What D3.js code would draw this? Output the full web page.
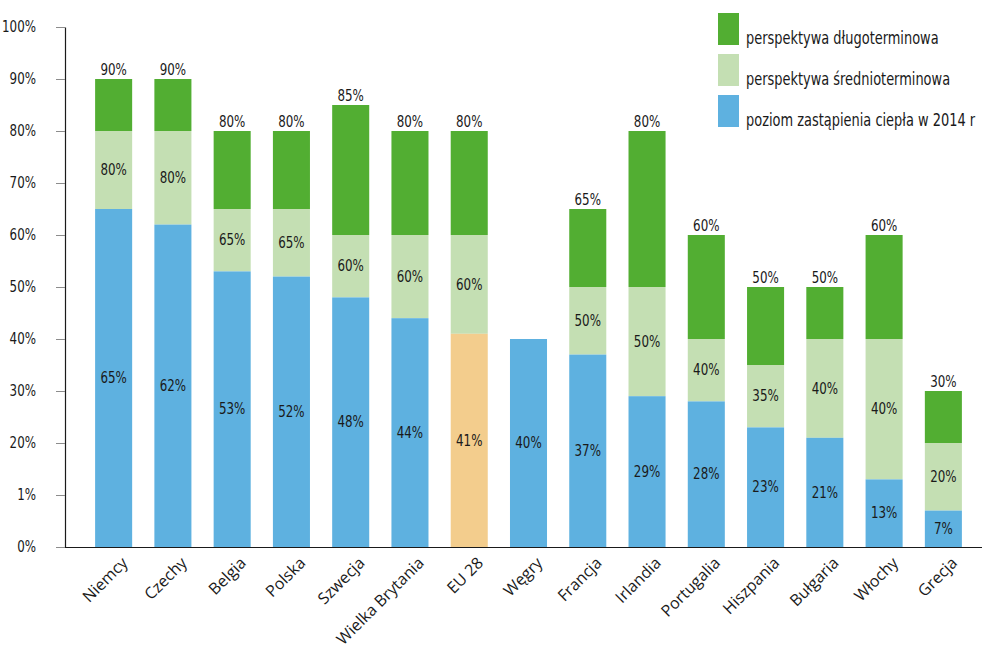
<!DOCTYPE html>
<html>
<head>
<meta charset="utf-8">
<style>
  body { margin: 0; background: #fff; }
  svg { display: block; }
  .cond { font-family: "DejaVu Sans Condensed", "Liberation Sans Narrow", "Open Sans", sans-serif; }
  .xlab { font-family: "Open Sans", "Noto Sans", sans-serif; font-size: 16px; fill: #1a1a1a; }
  .val { font-size: 15px; fill: #1a1a1a; text-anchor: middle; }
  .yaxis text { font-size: 15px; fill: #1a1a1a; }
  .yaxis line { stroke: #8c8c8c; }
  .yaxis path { stroke: #1a1a1a; stroke-width: 1.2px; }
</style>
</head>
<body>
<div id="chart"></div>
<script src="https://cdn.jsdelivr.net/npm/d3@7"></script>
<script>
// countries, left to right
var countries = ["Niemcy", "Czechy", "Belgia", "Polska", "Szwecja", "Wielka Brytania", "EU 28",
                 "Węgry", "Francja", "Irlandia", "Portugalia", "Hiszpania", "Bułgaria", "Włochy", "Grecja"];
// poziom zastąpienia ciepła w 2014 r (%)
var current   = [65, 62, 53, 52, 48, 44, 41, 40, 37, 29, 28, 23, 21, 13, 7];
// perspektywa średnioterminowa (cumulative %)
var midTerm   = [80, 80, 65, 65, 60, 60, 60, null, 50, 50, 40, 35, 40, 40, 20];
// perspektywa długoterminowa (cumulative %)
var longTerm  = [90, 90, 80, 80, 85, 80, 80, null, 65, 80, 60, 50, 50, 60, 30];

var yTicks      = [0, 10, 20, 30, 40, 50, 60, 70, 80, 90, 100];
var yTickLabels = ["0%", "1%", "20%", "30%", "40%", "50%", "60%", "70%", "80%", "90%", "100%"];

var legendLabels = ["perspektywa długoterminowa", "perspektywa średnioterminowa", "poziom zastąpienia ciepła w 2014 r"];

var colLong = "#52ae32", colMid = "#c4dfb3", colCur = "#5eb1e0", colEU = "#f3cd8d";

var width = 982, height = 646;
var svg = d3.select("#chart").append("svg")
    .attr("width", width)
    .attr("height", height);

var x = d3.scaleBand()
    .domain(countries)
    .range([84, 973])
    .paddingInner(0.375)
    .paddingOuter(0.1875);

var y = d3.scaleLinear()
    .domain([0, 100])
    .range([547, 27]);

var rows = countries.map(function(c, i) {
  return { name: c, cur: current[i], mid: midTerm[i], lng: longTerm[i] };
});

// squeeze a text horizontally, the original uses a condensed face
function squeeze(sel, k) {
  sel.each(function() {
    var w = this.getComputedTextLength();
    d3.select(this).attr("textLength", w * k).attr("lengthAdjust", "spacingAndGlyphs");
  });
}

// bars
var g = svg.append("g");
var bar = g.selectAll("g.bar")
    .data(rows)
  .enter().append("g")
    .attr("class", "bar");

bar.filter(function(d) { return d.lng != null; })
  .append("rect")
    .attr("x", function(d) { return x(d.name); })
    .attr("width", x.bandwidth())
    .attr("y", function(d) { return y(d.lng); })
    .attr("height", function(d) { return y(d.mid) - y(d.lng); })
    .attr("fill", colLong);

bar.filter(function(d) { return d.mid != null; })
  .append("rect")
    .attr("x", function(d) { return x(d.name); })
    .attr("width", x.bandwidth())
    .attr("y", function(d) { return y(d.mid); })
    .attr("height", function(d) { return y(d.cur) - y(d.mid); })
    .attr("fill", colMid);

bar.append("rect")
    .attr("x", function(d) { return x(d.name); })
    .attr("width", x.bandwidth())
    .attr("y", function(d) { return y(d.cur); })
    .attr("height", function(d) { return y(0) - y(d.cur); })
    .attr("fill", function(d) { return d.name === "EU 28" ? colEU : colCur; });

// value labels
var cx = function(d) { return x(d.name) + x.bandwidth() / 2; };

bar.filter(function(d) { return d.lng != null; })
  .append("text")
    .attr("class", "val cond")
    .attr("x", cx)
    .attr("y", function(d) { return y(d.lng) - 4; })
    .text(function(d) { return d.lng + "%"; });

bar.filter(function(d) { return d.mid != null; })
  .append("text")
    .attr("class", "val cond")
    .attr("x", cx)
    .attr("y", function(d) { return (y(d.mid) + y(d.cur)) / 2; })
    .attr("dy", "0.35em")
    .text(function(d) { return d.mid + "%"; });

bar.append("text")
    .attr("class", "val cond")
    .attr("x", cx)
    .attr("y", function(d) { return (y(d.cur) + y(0)) / 2; })
    .attr("dy", "0.35em")
    .text(function(d) { return d.cur + "%"; });

squeeze(svg.selectAll("text.val"), 0.88);

// y axis
var yAxis = svg.append("g")
    .attr("class", "yaxis cond")
    .attr("transform", "translate(65,0)")
    .call(d3.axisLeft(y)
      .tickValues(yTicks)
      .tickFormat(function(d, i) { return yTickLabels[i]; })
      .tickSize(9)
      .tickSizeOuter(0)
      .tickPadding(20));
squeeze(yAxis.selectAll("text"), 0.88);

// x axis baseline
svg.append("line")
    .attr("x1", 65).attr("x2", width)
    .attr("y1", y(0) + 0.5).attr("y2", y(0) + 0.5)
    .attr("stroke", "#1a1a1a")
    .attr("stroke-width", 1.2);

// category labels, rotated
svg.selectAll("text.xlab")
    .data(countries)
  .enter().append("text")
    .attr("class", "xlab")
    .attr("text-anchor", "end")
    .attr("transform", function(d) {
      return "translate(" + (x(d) + x.bandwidth() / 2 + 15) + ",564) rotate(-45)";
    })
    .text(function(d) { return d; });

// legend
var legend = svg.append("g")
    .attr("transform", "translate(718,13)");
var legendColors = [colLong, colMid, colCur];
var li = legend.selectAll("g")
    .data(legendLabels)
  .enter().append("g")
    .attr("transform", function(d, i) { return "translate(0," + (i * 41) + ")"; });
li.append("rect")
    .attr("width", 21)
    .attr("height", 32)
    .attr("fill", function(d, i) { return legendColors[i]; });
li.append("text")
    .attr("class", "cond")
    .attr("x", 28)
    .attr("y", 31)
    .attr("font-size", 18)
    .attr("fill", "#1a1a1a")
    .text(function(d) { return d; });
squeeze(li.selectAll("text"), 0.8);
</script>
</body>
</html>
